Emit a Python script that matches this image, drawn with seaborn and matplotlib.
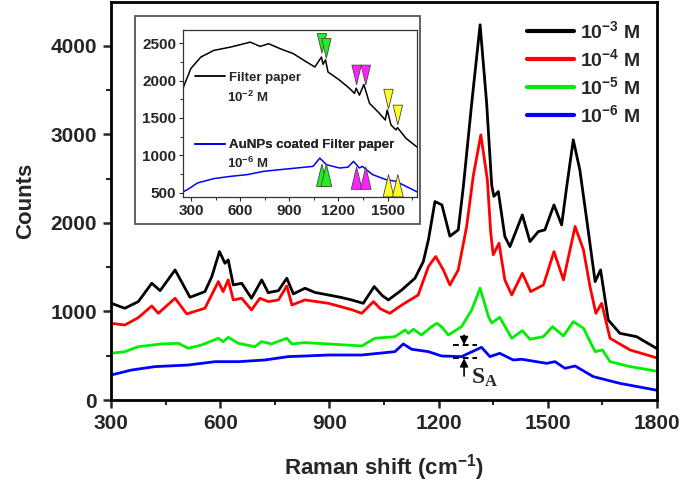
import matplotlib
matplotlib.use("Agg")
import matplotlib.pyplot as plt
import seaborn as sns
import pandas as pd
from matplotlib.patches import Rectangle
from matplotlib.lines import Line2D
from matplotlib.path import Path

# ---------------- data ----------------
conc_labels = ["10$^{-3}$ M", "10$^{-4}$ M", "10$^{-5}$ M", "10$^{-6}$ M"]
conc_colors = ["#000000", "#ff0000", "#00ee00", "#0000ff"]

x_1e3 = [300, 338, 375, 412, 435, 476, 517, 558, 577, 598, 613, 622, 636, 659, 686, 714, 732, 760,
         783, 801, 833, 860, 897, 930, 961, 993, 1023, 1045, 1062, 1099, 1135, 1158, 1172, 1190,
         1209, 1231, 1254, 1268, 1291, 1314, 1332, 1346, 1352, 1364, 1382, 1396, 1430, 1451, 1474,
         1492, 1517, 1538, 1552, 1570, 1588, 1607, 1630, 1645, 1666, 1698, 1744, 1800]
y_1e3 = [1093, 1036, 1111, 1318, 1235, 1469, 1160, 1224, 1394, 1676, 1544, 1582, 1299, 1318, 1149,
         1356, 1212, 1235, 1375, 1198, 1262, 1215, 1186, 1160, 1130, 1092, 1281, 1180, 1130, 1243,
         1375, 1563, 1808, 2241, 2203, 1850, 1921, 2411, 3352, 4237, 3352, 2420, 2300, 2354, 1846,
         1732, 2090, 1789, 1902, 1921, 2203, 1977, 2411, 2938, 2599, 2034, 1337, 1469, 904, 753,
         715, 580]

x_1e4 = [300, 338, 375, 412, 430, 476, 508, 558, 595, 608, 622, 636, 659, 686, 709, 732, 760, 783,
         797, 833, 897, 961, 989, 1021, 1040, 1066, 1099, 1144, 1172, 1192, 1213, 1231, 1254, 1277,
         1295, 1316, 1334, 1343, 1350, 1366, 1382, 1401, 1430, 1453, 1488, 1517, 1543, 1575, 1598,
         1616, 1632, 1648, 1671, 1726, 1800]
y_1e4 = [866, 847, 930, 1062, 979, 1149, 972, 1036, 1337, 1224, 1356, 1130, 1149, 1017, 1149, 1111,
         1130, 1288, 1073, 1130, 1092, 1020, 979, 1111, 1030, 979, 1073, 1186, 1507, 1620, 1469,
         1299, 1469, 1958, 2523, 2994, 2486, 1900, 1640, 1770, 1356, 1186, 1431, 1224, 1299, 1676,
         1356, 1959, 1695, 1281, 979, 1092, 697, 565, 475]

x_1e5 = [300, 338, 375, 439, 485, 512, 549, 595, 608, 622, 650, 695, 714, 741, 783, 797, 833, 897,
         989, 1025, 1080, 1108, 1117, 1131, 1153, 1181, 1195, 1208, 1227, 1263, 1291, 1314, 1337,
         1346, 1368, 1401, 1430, 1451, 1488, 1513, 1543, 1570, 1598, 1630, 1650, 1671, 1726, 1800]
y_1e5 = [527, 546, 602, 633, 640, 584, 621, 697, 659, 708, 640, 602, 659, 633, 697, 633, 648, 633,
         610, 697, 715, 791, 753, 799, 734, 828, 866, 828, 734, 828, 1017, 1262, 941, 870, 934, 697,
         783, 686, 716, 828, 723, 885, 810, 546, 565, 433, 377, 325]

x_1e6 = [300, 357, 421, 512, 586, 650, 723, 787, 833, 897, 989, 1080, 1103, 1126, 1172, 1208, 1263,
         1318, 1341, 1368, 1405, 1428, 1497, 1520, 1547, 1575, 1625, 1698, 1800]
y_1e6 = [282, 339, 377, 395, 433, 433, 452, 490, 497, 508, 508, 546, 633, 573, 546, 497, 490, 595,
         490, 527, 452, 460, 414, 433, 358, 384, 264, 188, 110]

# inset
inset_labels = ["Filter paper", "AuNPs coated Filter paper"]
inset_conc = ["10$^{-2}$ M", "10$^{-6}$ M"]
inset_colors = ["#000000", "#0000ff"]
xi_paper = [250, 298, 359, 439, 541, 661, 721, 773, 844, 924, 1005, 1056, 1096, 1106, 1121, 1136,
            1207, 1268, 1298, 1308, 1328, 1355, 1390, 1450, 1486, 1498, 1521, 1551, 1561, 1612, 1680]
yi_paper = [1900, 2163, 2317, 2407, 2451, 2517, 2460, 2496, 2429, 2363, 2251, 2184, 2317, 2220,
            2280, 2117, 2007, 1896, 1829, 1900, 1806, 1949, 1696, 1563, 1473, 1607, 1407, 1340,
            1370, 1229, 1110]
xi_au = [250, 278, 339, 439, 541, 642, 742, 844, 945, 1045, 1086, 1127, 1207, 1258, 1292, 1328,
         1346, 1409, 1490, 1551, 1612, 1680]
yi_au = [510, 540, 629, 687, 717, 740, 784, 807, 829, 851, 962, 873, 829, 840, 918, 829, 851, 740,
         673, 651, 584, 510]

tri_x = [1099, 1126, 1311, 1367, 1506, 1563]
tri_colors = ["#22ee22", "#22ee22", "#ff22ff", "#ff22ff", "#ffff22", "#ffff22"]
tri_down_y = [2500, 2433, 2077, 2077, 1753, 1540]
tri_up_y = [732, 732, 693, 693, 592, 592]

# S_A marker
sa_x = 1270
sa_levels = [621, 471]

# ---------------- style ----------------
sns.set_theme(style="white")
plt.rcParams["font.family"] = ["Liberation Sans", "DejaVu Sans"]
plt.rcParams["font.weight"] = "bold"
plt.rcParams["mathtext.fontset"] = "custom"
plt.rcParams["mathtext.rm"] = "Liberation Sans:bold"
plt.rcParams["mathtext.bf"] = "Liberation Sans:bold"
plt.rcParams["mathtext.it"] = "Liberation Sans:bold"
plt.rcParams["mathtext.cal"] = "Liberation Serif"
plt.rcParams["mathtext.default"] = "rm"

W, H = 685, 488
fig = plt.figure(figsize=(W / 100, H / 100), dpi=100)

def fx(px):
    return px / W

def fy(py):
    return 1 - py / H

# ---------------- main axes ----------------
L, R, T, B = 111, 657, 1.5, 400
ax = fig.add_axes([fx(L), fy(B), fx(R) - fx(L), fy(T) - fy(B)])

frames = []
for lab, xs, ys in zip(conc_labels, [x_1e3, x_1e4, x_1e5, x_1e6], [y_1e3, y_1e4, y_1e5, y_1e6]):
    frames.append(pd.DataFrame({"shift": xs, "counts": ys, "conc": lab}))
df = pd.concat(frames, ignore_index=True)
sns.lineplot(data=df, x="shift", y="counts", hue="conc", hue_order=conc_labels,
             palette=conc_colors, linewidth=2.0, ax=ax, legend=False, sort=False,
             estimator=None)

ax.set_xlim(300, 1800)
ax.set_ylim(0, 4500)
ax.set_xticks(range(300, 1801, 300))
ax.set_xticks(range(450, 1800, 300), minor=True)
ax.set_yticks(range(0, 4001, 1000))
ax.set_yticks(range(500, 4500, 1000), minor=True)
ax.tick_params(axis="both", which="major", direction="out", length=6, width=1.8,
               labelsize=15, pad=4, bottom=True, left=True)
ax.tick_params(axis="both", which="minor", direction="out", length=3.5, width=1.5,
               bottom=True, left=True)
for lbl in ax.get_xticklabels() + ax.get_yticklabels():
    lbl.set_fontweight("bold")
for sp in ax.spines.values():
    sp.set_linewidth(2.0)
    sp.set_color("black")
ax.set_xlabel("Raman shift (cm$^{-1}$)", fontsize=16, fontweight="bold", labelpad=14)
ax.set_ylabel("Counts", fontsize=16, fontweight="bold", labelpad=10)

handles = [Line2D([], [], color=c, lw=3) for c in conc_colors]
leg = ax.legend(handles, conc_labels, loc="upper left",
                bbox_to_anchor=((527 - L) / (R - L), (B - 20) / (B - T)),
                frameon=False, fontsize=14, handlelength=2.4, handletextpad=0.35,
                labelspacing=0.32, borderpad=0, borderaxespad=0)
for t in leg.get_texts():
    t.set_fontweight("bold")

# S_A annotation
ax.hlines(sa_levels, sa_x - 30, sa_x + 35, colors="black", linestyles=(0, (3, 2)), lw=1.4)
ax.annotate("", xy=(sa_x, sa_levels[0]), xytext=(sa_x, sa_levels[0] + 110),
            arrowprops=dict(arrowstyle="-|>", color="black", lw=1.2, mutation_scale=12,
                            shrinkA=0, shrinkB=0))
ax.annotate("", xy=(sa_x, sa_levels[1]), xytext=(sa_x, sa_levels[1] - 200),
            arrowprops=dict(arrowstyle="-|>", color="black", lw=1.2, mutation_scale=12,
                            shrinkA=0, shrinkB=0))
ax.text(sa_x + 18, 250, r"$\mathcal{S}_{\mathcal{A}}$", fontsize=17, ha="left", va="center")

# ---------------- inset ----------------
fig.patches.append(Rectangle((fx(135), fy(224)), fx(420) - fx(135), fy(16) - fy(224),
                             transform=fig.transFigure, fill=False, edgecolor="#555555",
                             lw=1.3, zorder=5))
iL, iR, iT, iB = 183, 417, 30, 197
axi = fig.add_axes([fx(iL), fy(iB), fx(iR) - fx(iL), fy(iT) - fy(iB)])
axi.set_facecolor("white")
dfi = pd.concat([pd.DataFrame({"shift": xi_paper, "counts": yi_paper, "s": inset_labels[0]}),
                 pd.DataFrame({"shift": xi_au, "counts": yi_au, "s": inset_labels[1]})],
                ignore_index=True)
sns.lineplot(data=dfi, x="shift", y="counts", hue="s", hue_order=inset_labels,
             palette=inset_colors, linewidth=1.1, ax=axi, legend=False, sort=False,
             estimator=None)

down_marker = Path([(-0.24, 0.5), (0.24, 0.5), (0, -0.5), (-0.24, 0.5)],
                   [Path.MOVETO, Path.LINETO, Path.LINETO, Path.CLOSEPOLY])
up_marker = Path([(-0.24, -0.5), (0.24, -0.5), (0, 0.5), (-0.24, -0.5)],
                 [Path.MOVETO, Path.LINETO, Path.LINETO, Path.CLOSEPOLY])
axi.scatter(tri_x, tri_down_y, marker=down_marker, s=200, c=tri_colors,
            edgecolors="#444444", linewidths=0.6, zorder=4)
axi.scatter(tri_x, tri_up_y, marker=up_marker, s=260, c=tri_colors,
            edgecolors="#444444", linewidths=0.6, zorder=4)

axi.set_xlim(250, 1680)
axi.set_ylim(440, 2680)
axi.set_xticks(range(300, 1501, 300))
axi.set_xticks(range(450, 1680, 300), minor=True)
axi.set_yticks(range(500, 2501, 500))
axi.set_yticks(range(750, 2680, 500), minor=True)
axi.tick_params(axis="both", which="major", direction="out", length=3, width=0.8,
                labelsize=11, pad=2, bottom=True, left=True)
axi.tick_params(axis="both", which="minor", direction="out", length=2, width=0.7,
                bottom=True, left=True)
for lbl in axi.get_xticklabels() + axi.get_yticklabels():
    lbl.set_fontweight("bold")
for sp in axi.spines.values():
    sp.set_linewidth(0.9)
    sp.set_color("#333333")
axi.set_xlabel("")
axi.set_ylabel("")

ih = [Line2D([], [], color=c, lw=1.3) for c in inset_colors]
yfr = [(iB - 78) / (iB - iT), (iB - 145) / (iB - iT)]
cfr = [(iB - 97) / (iB - iT), (iB - 163) / (iB - iT)]
for h, lab, yf, cf, conc in zip(ih, inset_labels, yfr, cfr, inset_conc):
    lg = axi.legend([h], [lab], loc="center left", bbox_to_anchor=((195 - iL) / (iR - iL), yf),
                    frameon=False, fontsize=9.5, handlelength=2.3, handletextpad=0.3,
                    borderpad=0, borderaxespad=0)
    for t in lg.get_texts():
        t.set_fontweight("bold")
    axi.add_artist(lg)
    axi.text((227 - iL) / (iR - iL), cf, conc, transform=axi.transAxes, fontsize=9.5,
             fontweight="bold", ha="left", va="center")

fig.savefig("out.png", dpi=100)
